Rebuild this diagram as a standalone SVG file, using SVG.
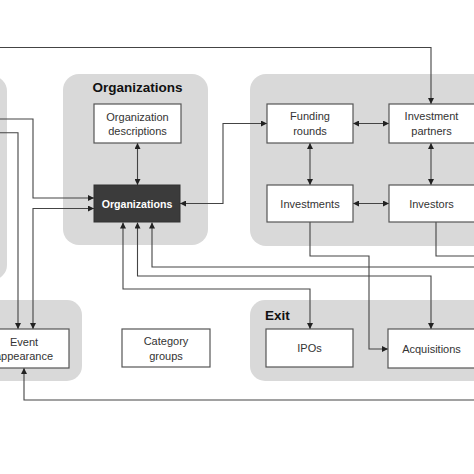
<svg xmlns="http://www.w3.org/2000/svg" width="474" height="474" viewBox="0 0 474 474">
<style>
.grp{fill:#d9d9d9}
.box{fill:#fff;stroke:#555;stroke-width:1.2}
.dark{fill:#3b3b3b;stroke:#333;stroke-width:1}
.t{font-family:"Liberation Sans",Arial,sans-serif;font-size:11px;fill:#333;text-anchor:middle}
.tw{font-family:"Liberation Sans",Arial,sans-serif;font-size:10.6px;font-weight:bold;fill:#fff;text-anchor:middle}
.h{font-family:"Liberation Sans",Arial,sans-serif;font-size:13.5px;font-weight:bold;fill:#111}
.c{fill:none;stroke:#444;stroke-width:1.1}
</style>
<defs>
<marker id="a" viewBox="0 0 10 10" refX="10" refY="5" markerWidth="6" markerHeight="6" markerUnits="userSpaceOnUse" orient="auto-start-reverse">
<path d="M0,0 L10,5 L0,10 z" fill="#222"/>
</marker>
</defs>
<rect width="474" height="474" fill="#fff"/>
<g id="groups">
<rect id="g-left" class="grp" x="-40" y="76" width="47" height="204" rx="15"/>
<rect id="g-org" class="grp" x="63" y="74" width="145" height="171" rx="16"/>
<rect id="g-inv" class="grp" x="250" y="74" width="260" height="172" rx="16"/>
<rect id="g-event" class="grp" x="-40" y="300" width="122" height="81" rx="15"/>
<rect id="g-exit" class="grp" x="250" y="300" width="260" height="81" rx="15"/>
<text class="h" x="137.5" y="92" text-anchor="middle">Organizations</text>
<text class="h" x="265" y="320">Exit</text>
</g>
<g id="connectors">
<path class="c" d="M0,47.5 H431 V104" marker-end="url(#a)"/>
<path class="c" d="M0,119 H33 V198 H94" marker-end="url(#a)"/>
<path class="c" d="M0,132.7 H18 V329" marker-end="url(#a)"/>
<path class="c" d="M94,208.5 H33 V329" marker-start="url(#a)" marker-end="url(#a)"/>
<path class="c" d="M137.5,143 V185" marker-start="url(#a)" marker-end="url(#a)"/>
<path class="c" d="M180,203.5 H223 V123.5 H267" marker-start="url(#a)" marker-end="url(#a)"/>
<path class="c" d="M353,123.5 H389" marker-start="url(#a)" marker-end="url(#a)"/>
<path class="c" d="M310,143 V185" marker-start="url(#a)" marker-end="url(#a)"/>
<path class="c" d="M431,143 V185" marker-start="url(#a)" marker-end="url(#a)"/>
<path class="c" d="M353,203.5 H389" marker-start="url(#a)" marker-end="url(#a)"/>
<path class="c" d="M310,222 V256 H369 V349 H388" marker-end="url(#a)"/>
<path class="c" d="M436,222 V256 H474"/>
<path class="c" d="M474,267 H152 V222.5" marker-end="url(#a)"/>
<path class="c" d="M137.5,222.5 V276 H431 V329" marker-start="url(#a)" marker-end="url(#a)"/>
<path class="c" d="M123,222.5 V289 H310 V329" marker-start="url(#a)" marker-end="url(#a)"/>
<path class="c" d="M24,368 V400 H474" marker-start="url(#a)"/>
</g>
<g id="n-orgdesc">
<rect class="box" x="94" y="104" width="87" height="39"/>
<text class="t" x="137.5" y="121">Organization</text>
<text class="t" x="137.5" y="134.5">descriptions</text>
</g>
<g id="n-org">
<rect class="dark" x="94" y="185" width="86" height="37"/>
<text class="tw" x="137" y="207.5">Organizations</text>
</g>
<g id="n-funding">
<rect class="box" x="267" y="104" width="86" height="39"/>
<text class="t" x="310" y="120">Funding</text>
<text class="t" x="310" y="134.5">rounds</text>
</g>
<g id="n-partners">
<rect class="box" x="389" y="104" width="86" height="39"/>
<text class="t" x="431.5" y="120">Investment</text>
<text class="t" x="431.5" y="134.5">partners</text>
</g>
<g id="n-investments">
<rect class="box" x="267" y="185" width="86" height="37"/>
<text class="t" x="310" y="207.5">Investments</text>
</g>
<g id="n-investors">
<rect class="box" x="389" y="185" width="86" height="37"/>
<text class="t" x="431.5" y="207.5">Investors</text>
</g>
<g id="n-event">
<rect class="box" x="-21" y="329" width="90" height="39"/>
<text class="t" x="24" y="345.5">Event</text>
<text class="t" x="24" y="360">appearance</text>
</g>
<g id="n-category">
<rect class="box" x="122" y="329" width="88" height="38"/>
<text class="t" x="166" y="345">Category</text>
<text class="t" x="166" y="359.5">groups</text>
</g>
<g id="n-ipos">
<rect class="box" x="266" y="329" width="87" height="38"/>
<text class="t" x="309.5" y="352">IPOs</text>
</g>
<g id="n-acq">
<rect class="box" x="388" y="329" width="87" height="39"/>
<text class="t" x="431.5" y="352.5">Acquisitions</text>
</g>
</svg>
